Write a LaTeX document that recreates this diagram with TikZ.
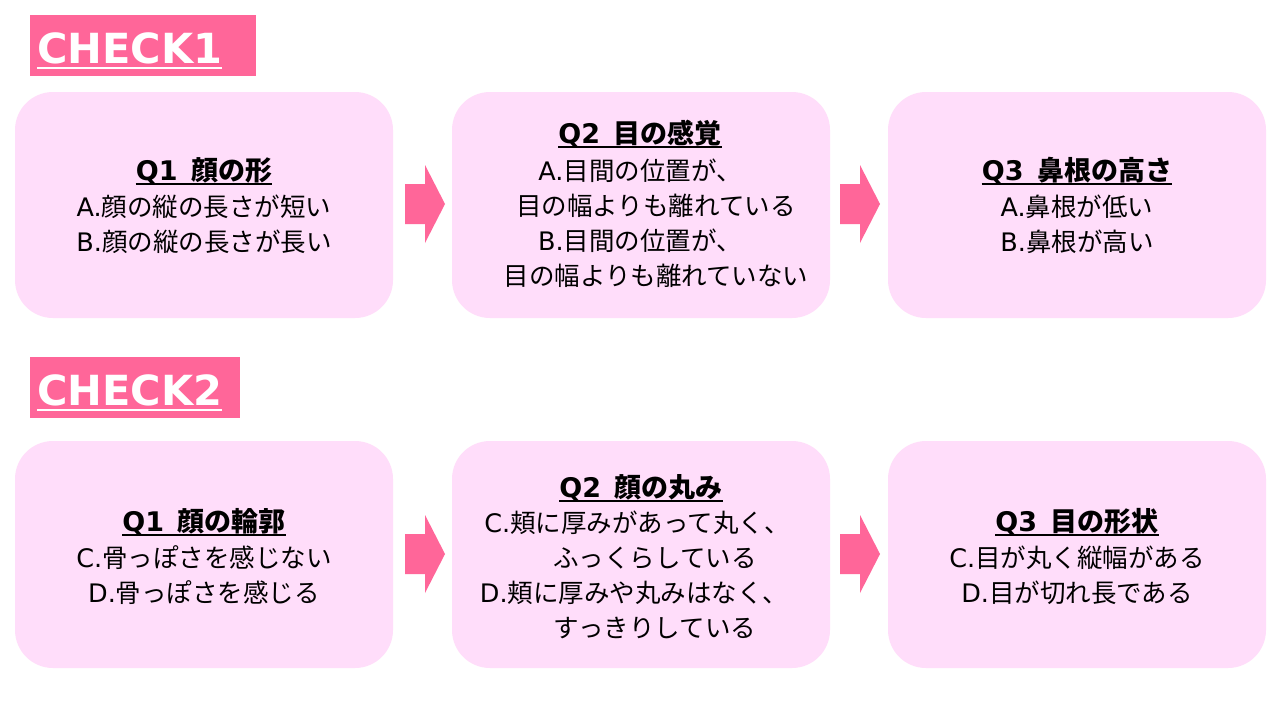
\documentclass[tikz,border=0pt]{standalone}
\usepackage{fontspec}
\setmainfont{Noto Sans CJK JP}
\newfontfamily\chkfont{DejaVu Sans}
\newfontfamily\lat{DejaVu Sans}
\usetikzlibrary{calc}
\definecolor{boxpink}{RGB}{255,221,250}
\definecolor{hotpink}{RGB}{255,102,153}
\tikzset{
  qbox/.style={fill=boxpink, draw=none, rounded corners=38pt, minimum width=378pt, inner sep=0pt},
  chkbox/.style={fill=hotpink, draw=none, inner sep=0pt, minimum height=61pt},
  chktext/.style={font=\chkfont\bfseries\fontsize{41.5}{45}\selectfont, text=white, anchor=base west, inner sep=0pt},
  chkul/.style={draw=white, line width=2pt},
  ttl/.style={font=\fontsize{27}{30}\selectfont\bfseries, anchor=base, inner sep=0pt},
  ln/.style={font=\fontsize{25.5}{28}\selectfont, anchor=base, inner sep=0pt},
  ttlul/.style={draw=black, line width=1.5pt},
  blockarrow/.style={fill=hotpink, draw=none},
}
\newcommand\qt[2]{{\lat #1}\hspace{0.5em}#2}
\newcommand\lt[2]{{\lat #1}#2}
\begin{document}
\begin{tikzpicture}[x=1pt, y=-1pt]
\useasboundingbox[fill=white] (0,0) rectangle (1280,720);

% CHECK labels
\node[chkbox, minimum width=226pt] (c1) at (143,45.5) {};
\node[chktext] (c1t) at (37,63) {CHECK1};
\draw[chkul] ([yshift=-5pt]c1t.base west) -- ([yshift=-5pt]c1t.base east);
\node[chkbox, minimum width=210pt] (c2) at (135,387.5) {};
\node[chktext] (c2t) at (37,405) {CHECK2};
\draw[chkul] ([yshift=-5pt]c2t.base west) -- ([yshift=-5pt]c2t.base east);

% Row 1 boxes
\node[qbox, minimum height=226pt] (b11) at (204,205) {};
\node[qbox, minimum height=226pt] (b12) at (641,205) {};
\node[qbox, minimum height=226pt] (b13) at (1077,205) {};
% Row 2 boxes
\node[qbox, minimum height=227pt] (b21) at (204,554.5) {};
\node[qbox, minimum height=227pt] (b22) at (641,554.5) {};
\node[qbox, minimum height=227pt] (b23) at (1077,554.5) {};

% arrows
\coordinate (a11) at (425,204);
\coordinate (a12) at (860,204);
\coordinate (a21) at (425,554);
\coordinate (a22) at (860,554);
\foreach \a in {a11,a12,a21,a22}{
  \fill[blockarrow] (\a) ++(-20,-20) -- ++(20,0) -- ++(0,-19) -- ++(20,39) -- ++(-20,39) -- ++(0,-19) -- ++(-20,0) -- cycle;
}

% Row 1 box 1
\node[ttl] (t11) at (204,180) {\qt{Q1}{顔の形}};
\draw[ttlul] ([yshift=-4pt]t11.base west) -- ([yshift=-4pt]t11.base east);
\node[ln] (l11a) at (204,216) {\lt{A.}{顔の縦の長さが短い}};
\node[ln] (l11b) at (204,251) {\lt{B.}{顔の縦の長さが長い}};

% Row 1 box 2
\node[ttl] (t12) at (640,143) {\qt{Q2}{目の感覚}};
\draw[ttlul] ([yshift=-4pt]t12.base west) -- ([yshift=-4pt]t12.base east);
\node[ln] (l12a) at (640,180) {\lt{A.}{目間の位置が、}};
\node[ln] (l12b) at (656,215) {目の幅よりも離れている};
\node[ln] (l12c) at (640,250) {\lt{B.}{目間の位置が、}};
\node[ln] (l12d) at (656,285) {目の幅よりも離れていない};

% Row 1 box 3
\node[ttl] (t13) at (1077,180) {\qt{Q3}{鼻根の高さ}};
\draw[ttlul] ([yshift=-4pt]t13.base west) -- ([yshift=-4pt]t13.base east);
\node[ln] (l13a) at (1077,216) {\lt{A.}{鼻根が低い}};
\node[ln] (l13b) at (1077,251) {\lt{B.}{鼻根が高い}};

% Row 2 box 1
\node[ttl] (t21) at (204,531) {\qt{Q1}{顔の輪郭}};
\draw[ttlul] ([yshift=-4pt]t21.base west) -- ([yshift=-4pt]t21.base east);
\node[ln] (l21a) at (204,567) {\lt{C.}{骨っぽさを感じない}};
\node[ln] (l21b) at (204,602) {\lt{D.}{骨っぽさを感じる}};

% Row 2 box 2
\node[ttl] (t22) at (641,497) {\qt{Q2}{顔の丸み}};
\draw[ttlul] ([yshift=-4pt]t22.base west) -- ([yshift=-4pt]t22.base east);
\node[ln] (l22a) at (637,532) {\lt{C.}{頬に厚みがあって丸く、}};
\node[ln] (l22b) at (655,567) {ふっくらしている};
\node[ln] (l22c) at (634,602) {\lt{D.}{頬に厚みや丸みはなく、}};
\node[ln] (l22d) at (655,637) {すっきりしている};

% Row 2 box 3
\node[ttl] (t23) at (1077,531) {\qt{Q3}{目の形状}};
\draw[ttlul] ([yshift=-4pt]t23.base west) -- ([yshift=-4pt]t23.base east);
\node[ln] (l23a) at (1077,567) {\lt{C.}{目が丸く縦幅がある}};
\node[ln] (l23b) at (1077,602) {\lt{D.}{目が切れ長である}};
\end{tikzpicture}
\end{document}
